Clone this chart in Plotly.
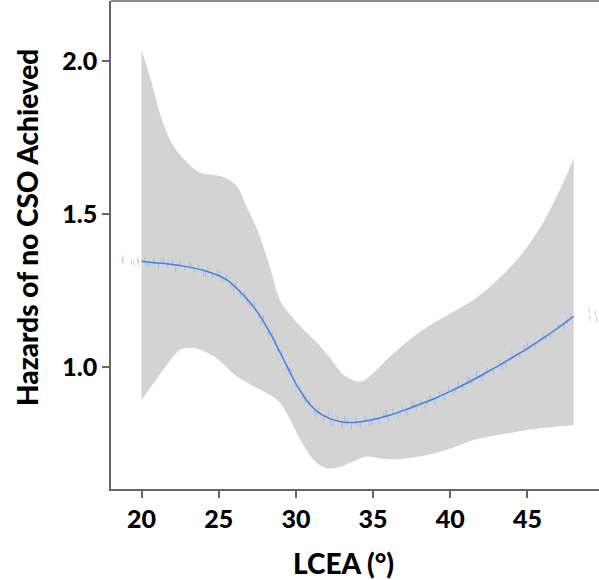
import plotly.graph_objects as go

# ---- data ----
fit_x = [20, 21, 22, 23, 24, 25, 25.5, 26, 26.5, 27, 27.5, 28, 28.5, 29, 29.5, 30, 30.5, 31,
         31.5, 32, 32.5, 33, 33.5, 34, 34.5, 35, 35.5, 36, 37, 38, 39, 40, 41, 42, 43, 44,
         45, 46, 47, 48]
fit_y = [1.345, 1.340, 1.335, 1.327, 1.316, 1.298, 1.285, 1.265, 1.240, 1.212, 1.180, 1.140,
         1.095, 1.045, 0.995, 0.945, 0.905, 0.872, 0.850, 0.836, 0.826, 0.820, 0.818, 0.819,
         0.823, 0.828, 0.834, 0.841, 0.858, 0.877, 0.897, 0.920, 0.945, 0.972, 1.000, 1.030,
         1.060, 1.093, 1.128, 1.165]

upper_x = [20, 20.6, 21.4, 22.1, 23.0, 23.8, 24.7, 25.5, 26.2, 26.8, 27.5, 28.3, 29.0, 29.9,
           30.7, 31.4, 32.2, 33.1, 34.2, 35.0, 36.1, 37.6, 38.9, 40.4, 41.5, 42.8, 44.5, 46.0,
           47.1, 48.0]
upper_y = [2.036, 1.938, 1.796, 1.720, 1.666, 1.635, 1.627, 1.617, 1.589, 1.524, 1.448, 1.330,
           1.215, 1.155, 1.112, 1.077, 1.030, 0.974, 0.952, 0.979, 1.034, 1.099, 1.143, 1.186,
           1.219, 1.273, 1.360, 1.470, 1.578, 1.682]

lower_x = [20, 21.4, 22.5, 23.4, 24.7, 26.2, 27.7, 28.8, 29.4, 30.3, 31.15, 32.0, 32.9, 33.7,
           34.6, 35.5, 36.5, 38.0, 39.8, 41.5, 44.0, 46.0, 48.0]
lower_y = [0.892, 0.990, 1.056, 1.062, 1.034, 0.968, 0.925, 0.892, 0.849, 0.761, 0.696, 0.669,
           0.674, 0.691, 0.707, 0.701, 0.698, 0.707, 0.729, 0.761, 0.785, 0.800, 0.810]

obs_x = [18.75, 18.8, 19.35, 19.5, 19.75, 19.8,
         20.2, 20.5, 20.8, 21.1, 21.4, 21.7, 22.0, 22.2, 22.5, 22.8, 23.1, 23.4, 23.7, 24.0,
         24.3, 24.6, 24.9, 25.2, 25.5, 25.8, 26.1, 26.4, 26.7, 27.0, 27.3, 27.6, 27.9, 28.2,
         28.5, 28.8, 29.1, 29.4, 29.7, 30.0, 30.3, 30.6, 30.9, 31.2, 31.5, 31.8, 32.1, 32.4,
         32.7, 33.0, 33.3, 33.6, 33.9, 34.2, 34.5, 34.8, 35.1, 35.4, 35.7, 36.0, 36.3, 36.6,
         36.9, 37.2, 37.5, 37.8, 38.1, 38.4, 38.7, 39.0, 39.3, 39.6, 39.9, 40.2, 40.5, 40.8,
         41.1, 41.4, 41.7, 42.0, 42.4, 42.8, 43.2, 43.6, 44.0, 44.5, 45.0, 45.5, 46.0, 46.5,
         47.0, 47.4, 47.8,
         20.35, 21.25, 22.35, 23.25, 24.15, 25.05, 25.95, 26.85, 27.75, 28.65, 29.55, 30.45,
         31.35, 32.25, 33.15, 34.05, 34.95, 35.85, 36.75, 37.65, 38.55, 39.45, 40.35, 41.25,
         42.2, 43.4, 44.8, 46.2, 47.6,
         49.0, 49.05, 49.4, 49.5]
obs_y = [1.355, 1.345, 1.345, 1.340, 1.350, 1.340,
         1.350, 1.335, 1.345, 1.330, 1.350, 1.335, 1.345, 1.320, 1.340, 1.325, 1.335, 1.315,
         1.325, 1.305, 1.320, 1.300, 1.310, 1.285, 1.295, 1.265, 1.270, 1.235, 1.240, 1.200,
         1.205, 1.165, 1.160, 1.110, 1.105, 1.060, 1.045, 0.995, 0.985, 0.940, 0.930, 0.890,
         0.885, 0.850, 0.860, 0.830, 0.845, 0.815, 0.830, 0.810, 0.825, 0.805, 0.830, 0.810,
         0.830, 0.815, 0.835, 0.820, 0.845, 0.830, 0.855, 0.840, 0.865, 0.850, 0.875, 0.865,
         0.885, 0.870, 0.900, 0.885, 0.910, 0.900, 0.930, 0.915, 0.945, 0.935, 0.960, 0.950,
         0.975, 0.965, 0.990, 0.985, 1.015, 1.010, 1.045, 1.040, 1.070, 1.070, 1.100, 1.105,
         1.130, 1.130, 1.165,
         1.335, 1.345, 1.330, 1.330, 1.305, 1.305, 1.255, 1.215, 1.145, 1.080, 0.985, 0.905,
         0.845, 0.820, 0.830, 0.815, 0.820, 0.850, 0.850, 0.880, 0.885, 0.915, 0.925, 0.955,
         0.975, 1.000, 1.060, 1.095, 1.150,
         1.185, 1.160, 1.175, 1.155]

x_ticks = [20, 25, 30, 35, 40, 45]
y_ticks = [1.0, 1.5, 2.0]
x_title = "LCEA (°)"
y_title = "Hazards of no CSO Achieved"

FONT = "Lato"
WT = 900
AX = "#666666"

fig = go.Figure()
fig.add_trace(go.Scatter(x=lower_x, y=lower_y, mode="lines",
                         line=dict(width=0, shape="spline", smoothing=0.9),
                         hoverinfo="skip", showlegend=False))
fig.add_trace(go.Scatter(x=upper_x, y=upper_y, mode="lines", fill="tonexty",
                         fillcolor="rgb(211,211,211)",
                         line=dict(width=0, shape="spline", smoothing=0.9),
                         hoverinfo="skip", showlegend=False))
fig.add_trace(go.Scatter(x=obs_x, y=obs_y, mode="markers",
                         marker=dict(symbol="line-ns", size=4,
                                     line=dict(width=1, color="rgba(120,165,235,0.5)")),
                         hoverinfo="skip", showlegend=False))
fig.add_trace(go.Scatter(x=fit_x, y=fit_y, mode="lines",
                         line=dict(color="#3f82e6", width=1.5, shape="spline", smoothing=0.8),
                         showlegend=False))

fig.update_layout(
    width=599, height=580,
    margin=dict(l=111, r=0, t=1, b=91),
    plot_bgcolor="white", paper_bgcolor="white",
    font=dict(family=FONT, color="black"),
    xaxis=dict(range=[18.02, 49.64], tickvals=x_ticks, showgrid=False, zeroline=False,
               showline=True, linecolor=AX, linewidth=1.5, ticks="outside", ticklen=7,
               tickwidth=1.5, tickcolor=AX,
               tickfont=dict(family=FONT, size=25, weight=WT, color="black")),
    yaxis=dict(range=[0.601, 2.196], tickvals=y_ticks, tickformat=".1f", showgrid=False,
               zeroline=False, showline=True, linecolor=AX, linewidth=1.5, ticks="outside",
               ticklen=7, tickwidth=1.5, tickcolor=AX,
               tickfont=dict(family=FONT, size=25, weight=WT, color="black")),
    shapes=[dict(type="line", xref="paper", yref="paper", x0=0, x1=1, y0=1, y1=1,
                 line=dict(color=AX, width=1.5))],
    annotations=[
        dict(text=x_title, xref="paper", yref="paper", x=0.476, y=-0.152,
             xanchor="center", yanchor="middle", showarrow=False,
             font=dict(family=FONT, size=28, weight=WT, color="black")),
        dict(text=y_title, xref="paper", yref="paper", x=-0.172, y=0.535, textangle=-90,
             xanchor="center", yanchor="middle", showarrow=False,
             font=dict(family=FONT, size=28, weight=WT, color="black")),
    ],
)

fig.write_html("out.html", config={"displayModeBar": False},
               post_script="document.body.style.margin='0px';")
